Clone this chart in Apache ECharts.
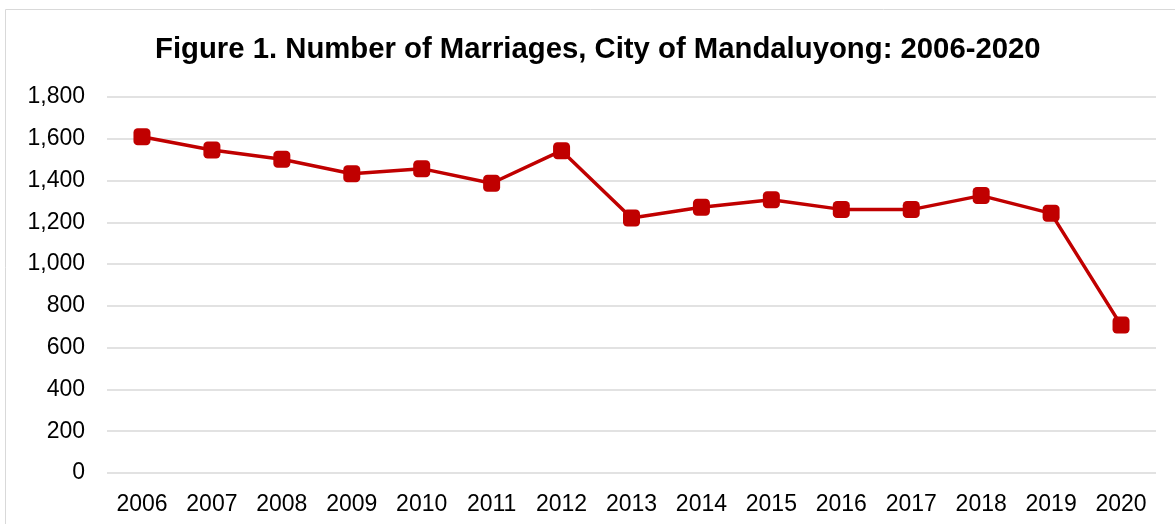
<!DOCTYPE html>
<html>
<head>
<meta charset="utf-8">
<script src="https://cdn.jsdelivr.net/npm/echarts@6/dist/echarts.min.js"></script>
<style>
  html, body { margin: 0; padding: 0; background: #fff; }
  #chart { width: 1175px; height: 524px; }
</style>
</head>
<body>
<div id="chart"></div>
<script>
// data
const years = ['2006', '2007', '2008', '2009', '2010', '2011', '2012', '2013', '2014', '2015', '2016', '2017', '2018', '2019', '2020']
const marriages = [1610, 1546, 1502, 1433, 1457, 1387, 1543, 1221, 1272, 1308, 1262, 1261, 1328, 1243, 708]

const titleText = 'Figure 1. Number of Marriages, City of Mandaluyong: 2006-2020'
const lineColor = '#C00000'

const chart = echarts.init(document.getElementById('chart'))

chart.setOption({
  animation: false,
  textStyle: { fontFamily: 'Liberation Sans, Arial, sans-serif' },
  graphic: [
    {
      type: 'rect',
      shape: { x: 5.5, y: 9.5, width: 1200, height: 600 },
      style: { fill: 'none', stroke: '#d9d9d9', lineWidth: 1 },
      silent: true,
    },
  ],
  title: {
    text: titleText,
    left: 150,
    top: 30,
    textStyle: {
      fontFamily: 'Liberation Sans, Arial, sans-serif',
      fontSize: 29.3,
      fontWeight: 'bold',
      color: '#000',
    },
  },
  grid: {
    left: 107,
    right: 19,
    top: 97,
    bottom: 51,
    containLabel: false,
  },
  xAxis: {
    type: 'category',
    data: years,
    boundaryGap: true,
    axisLine: { show: false },
    axisTick: { show: false },
    axisLabel: {
      color: '#000',
      fontSize: 23,
      margin: 20,
    },
  },
  yAxis: {
    type: 'value',
    min: 0,
    max: 1800,
    interval: 200,
    axisLine: { show: false },
    axisTick: { show: false },
    axisLabel: {
      color: '#000',
      fontSize: 23,
      margin: 22,
      formatter: v => v.toLocaleString('en-US'),
    },
    splitLine: {
      lineStyle: { color: '#d9d9d9', width: 1.5 },
    },
  },
  series: [
    {
      name: 'Marriages',
      type: 'line',
      data: marriages,
      symbol: 'roundRect',
      symbolSize: 17,
      lineStyle: { color: lineColor, width: 3.5 },
      itemStyle: { color: lineColor },
    },
  ],
})
</script>
</body>
</html>
